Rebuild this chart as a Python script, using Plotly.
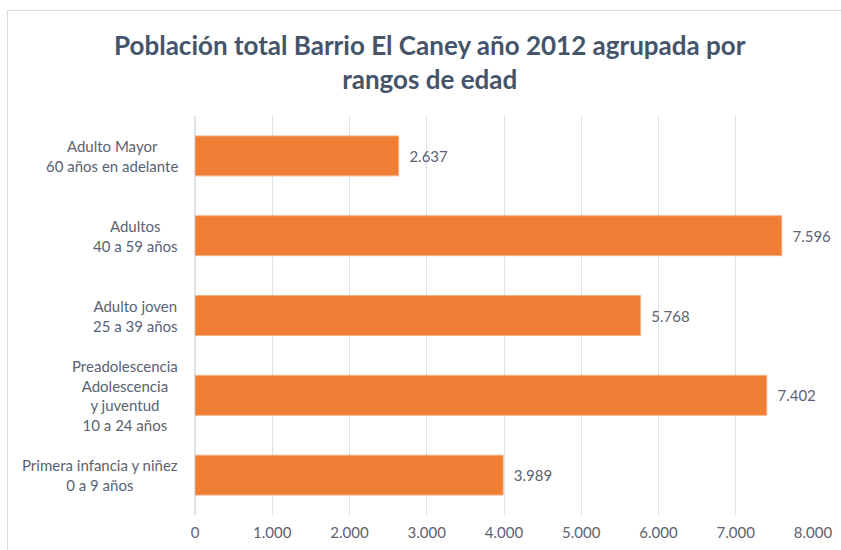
import plotly.graph_objects as go

categories = [
    "Primera infancia y niñez<br>0 a 9 años",
    "Preadolescencia<br>Adolescencia<br>y juventud<br>10 a 24 años",
    "Adulto joven<br>25 a 39 años",
    "Adultos<br>40 a 59 años",
    "Adulto Mayor<br>60 años en adelante",
]
values = [3989, 7402, 5768, 7596, 2637]
value_labels = ["3.989", "7.402", "5.768", "7.596", "2.637"]
tick_vals = [0, 1000, 2000, 3000, 4000, 5000, 6000, 7000, 8000]
tick_text = ["0", "1.000", "2.000", "3.000", "4.000", "5.000", "6.000", "7.000", "8.000"]

FONT = "Lato"
GRAY = "#5B6272"

fig = go.Figure()
fig.add_trace(go.Bar(
    y=categories, x=values, orientation="h",
    marker=dict(color="#EF7D33", line=dict(color="#F4B183", width=1)),
    width=0.5,
    text=["\u00a0\u00a0" + v for v in value_labels], textposition="outside",
    textfont=dict(family=FONT, size=15, color=GRAY),
    cliponaxis=False,
))

annotations = []
for c in categories:
    annotations.append(dict(
        x=-0.025, xref="paper", y=c, yref="y",
        text=c, showarrow=False, xanchor="right", yanchor="middle",
        align="center", font=dict(family=FONT, size=15, color=GRAY),
    ))

fig.update_layout(
    width=841, height=550,
    margin=dict(l=195, r=28, t=116, b=35),
    paper_bgcolor="white", plot_bgcolor="white",
    title=dict(
        text="<b>Población total Barrio El Caney año 2012 agrupada por<br>rangos de edad</b>",
        x=0.511, xanchor="center", y=0.9, yanchor="middle",
        font=dict(family=FONT, size=26, color="#44546A"),
    ),
    xaxis=dict(
        range=[0, 8000], tickvals=tick_vals, ticktext=tick_text,
        showgrid=True, gridcolor="#DDE2EA", gridwidth=1,
        zeroline=True, zerolinecolor="#DDE2EA",
        tickfont=dict(family=FONT, size=15, color=GRAY),
        ticks="", showline=False, ticklabelstandoff=7, automargin=False,
    ),
    yaxis=dict(
        categoryorder="array", categoryarray=categories,
        showticklabels=False, showgrid=False, ticks="", automargin=False,
    ),
    annotations=annotations,
    showlegend=False,
    shapes=[dict(
        type="rect", xref="paper", yref="paper",
        x0=(7.5 - 195) / 618, x1=(870 - 195) / 618,
        y0=(515 - 570) / 399, y1=(515 - 10.5) / 399,
        line=dict(color="#D9DDE3", width=1), layer="below",
    )],
)

fig.write_html("out.html")
